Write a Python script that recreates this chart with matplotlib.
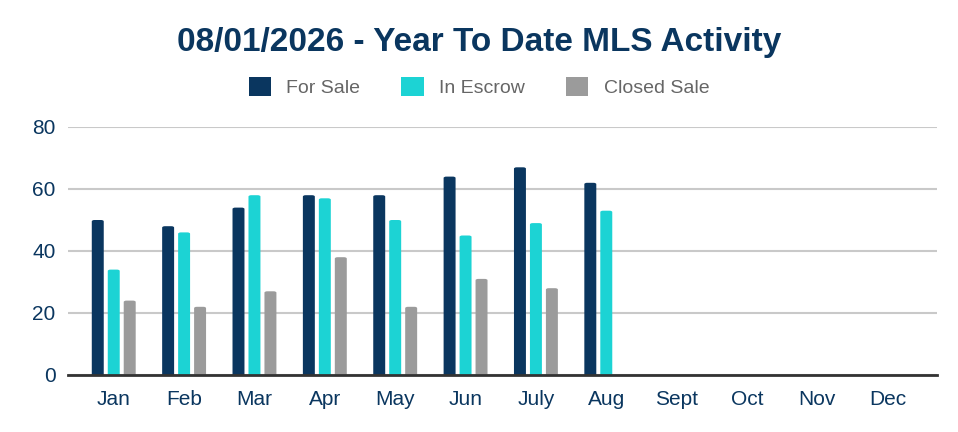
import matplotlib.pyplot as plt
from matplotlib.patches import FancyBboxPatch, Patch
from matplotlib import font_manager
import numpy as np

months = ["Jan", "Feb", "Mar", "Apr", "May", "Jun", "July", "Aug",
          "Sept", "Oct", "Nov", "Dec"]
for_sale = [50, 48, 54, 58, 58, 64, 67, 62]
in_escrow = [34, 46, 58, 57, 50, 45, 49, 53]
closed_sale = [24, 22, 27, 38, 22, 31, 28]

navy = "#0a365f"
teal = "#1cd3d4"
grey = "#9b9b9b"

names = {f.name for f in font_manager.fontManager.ttflist}
narrow = "Liberation Sans Narrow" if "Liberation Sans Narrow" in names else "Liberation Sans"
plt.rcParams["font.family"] = [narrow, "DejaVu Sans"]

fig = plt.figure(figsize=(9.58, 4.32), dpi=100)
ax = fig.add_axes([68 / 958, 1 - 375 / 432, (937 - 68) / 958, (375 - 127) / 432])

x = np.arange(len(months))
w = 0.17
off = 0.227


def rounded_bars(xs, vals, color):
    # plain bars for the scale, redrawn with slightly rounded tops
    bars = ax.bar(xs, vals, width=w, color=color)
    for b in bars:
        b.set_visible(False)
        x0, h = b.get_x(), b.get_height()
        p = FancyBboxPatch((x0, -3), w, h + 3,
                           boxstyle="round,pad=0,rounding_size=0.04",
                           mutation_aspect=11.0,
                           fc=color, ec="none", zorder=3)
        ax.add_patch(p)
    return bars


rounded_bars(x[:len(for_sale)] - off, for_sale, navy)
rounded_bars(x[:len(in_escrow)], in_escrow, teal)
rounded_bars(x[:len(closed_sale)] + off, closed_sale, grey)

ax.set_xlim(-0.65, 11.7)
ax.set_ylim(0, 80)
ax.set_yticks([0, 20, 40, 60, 80])
ax.set_xticks(x)
ax.set_xticklabels(months)
ax.grid(axis="y", color="#c9c9c9", linewidth=1.5, zorder=0)
ax.set_axisbelow(True)
for s in ["top", "right", "left"]:
    ax.spines[s].set_visible(False)
ax.spines["bottom"].set_color("#333333")
ax.spines["bottom"].set_linewidth(2)
ax.spines["bottom"].set_zorder(4)
ax.tick_params(axis="both", length=0, labelsize=15, labelcolor=navy)
ax.tick_params(axis="x", pad=11)
ax.tick_params(axis="y", pad=9)

fig.suptitle("08/01/2026 - Year To Date MLS Activity", x=0.5, y=1 - 42 / 432,
             va="center", fontsize=24, fontweight="bold", color=navy)

handles = [Patch(fc=navy), Patch(fc=teal), Patch(fc=grey)]
leg = fig.legend(handles, ["For Sale", "In Escrow", "Closed Sale"],
                 loc="center", bbox_to_anchor=(0.5, 1 - 87 / 432), ncol=3,
                 frameon=False, fontsize=14, handlelength=1.15, handleheight=1.15,
                 columnspacing=2.1, handletextpad=0.8)
for t in leg.get_texts():
    t.set_color("#666666")

fig.savefig("out.png", dpi=100)
